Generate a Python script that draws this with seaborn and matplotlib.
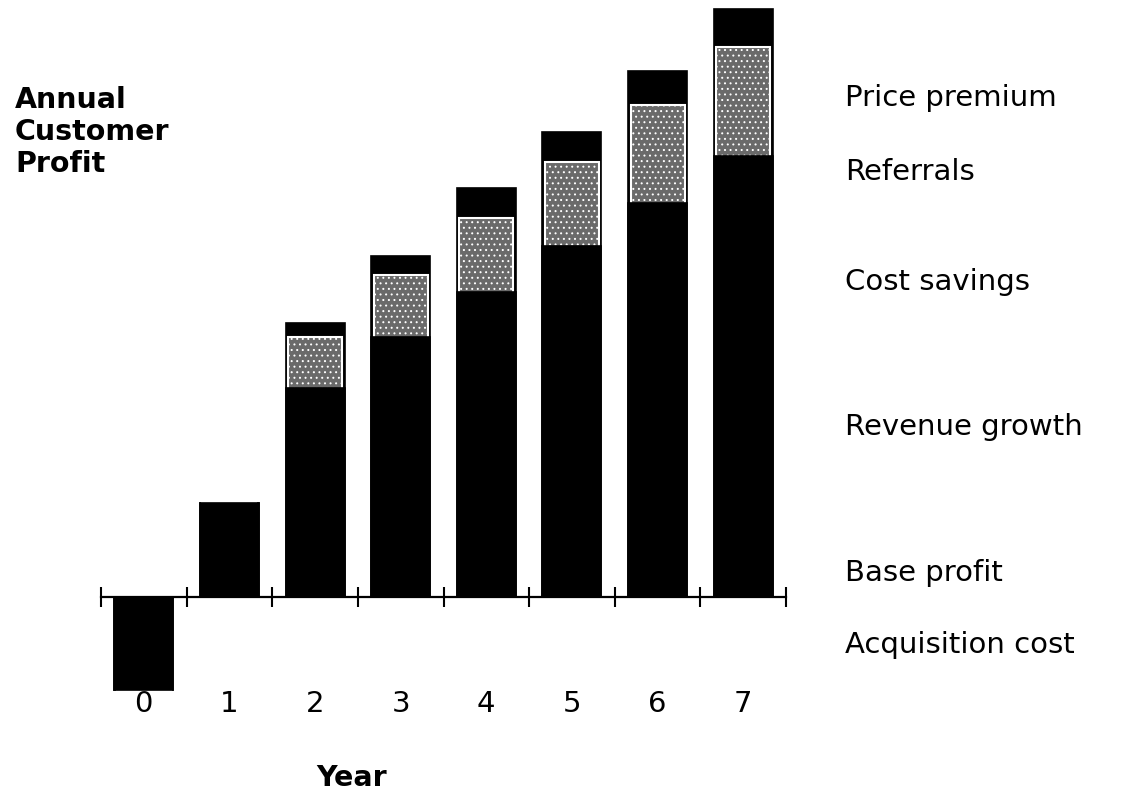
import pandas as pd
import matplotlib
matplotlib.use("Agg")
import matplotlib.pyplot as plt
import seaborn as sns
from matplotlib.ticker import FixedLocator

# Dữ liệu (đơn vị tùy ý)
years = ['0', '1', '2', '3', '4', '5', '6', '7']
acquisition_cost = [-9.3, 0, 0, 0, 0, 0, 0, 0]
base_profit = [0, 9.4, 9.4, 9.4, 9.4, 9.4, 9.4, 9.4]
growth_and_savings = [0, 0, 11.5, 16.6, 21.1, 25.7, 30.0, 34.7]
referrals = [0, 0, 5.1, 6.2, 7.4, 8.4, 9.8, 10.9]
price_premium = [0, 0, 1.4, 1.9, 3.0, 3.0, 3.4, 3.8]

layer_labels = ['Price premium', 'Referrals', 'Cost savings',
                'Revenue growth', 'Base profit', 'Acquisition cost']

df = pd.DataFrame({
    'year': years,
    'acq': acquisition_cost,
    'base': base_profit,
    'growth': growth_and_savings,
    'ref': referrals,
    'prem': price_premium,
})
df['lower'] = df['acq'] + df['base'] + df['growth']
df['mid'] = df['lower'] + df['ref']
df['total'] = df['mid'] + df['prem']

sns.set_style('white')
plt.rcParams['font.family'] = ['DejaVu Sans']
plt.rcParams['text.color'] = 'black'
plt.rcParams['xtick.color'] = 'black'
plt.rcParams['hatch.color'] = 'white'
plt.rcParams['hatch.linewidth'] = 0.7

fig = plt.figure(figsize=(11.29, 8.09), dpi=100)
ax = fig.add_axes([101 / 1129, 1 - 700 / 809, 685 / 1129, 695 / 809])

# Cột chồng: vẽ tổng tích lũy từ trên xuống
sns.barplot(data=df, x='year', y='total', order=years, color='black',
            width=0.69, saturation=1, edgecolor='black', linewidth=1.2, ax=ax)
sns.barplot(data=df, x='year', y='mid', order=years, color='#6a6a6a',
            width=0.63, saturation=1, edgecolor='white', linewidth=1.5,
            hatch='...', ax=ax)
sns.barplot(data=df, x='year', y='lower', order=years, color='black',
            width=0.69, saturation=1, edgecolor='black', linewidth=1.2, ax=ax)

ax.set_xlim(-0.5, 7.5)
ax.set_ylim(-10.3, 59.2)
ax.set_xlabel('')
ax.set_ylabel('')
ax.set_yticks([])

for s in ['left', 'right', 'top']:
    ax.spines[s].set_visible(False)
ax.spines['bottom'].set_position(('data', 0))
ax.spines['bottom'].set_linewidth(1.6)
ax.spines['bottom'].set_color('black')

ax.set_xticks(range(len(years)))
ax.set_xticklabels(years, fontsize=21)
ax.tick_params(axis='x', which='major', bottom=True, length=0, pad=67)
ax.xaxis.set_minor_locator(FixedLocator([i - 0.5 for i in range(len(years) + 1)]))
ax.tick_params(axis='x', which='minor', bottom=True, direction='inout',
               length=15, width=1.5, color='black')

fig.text(15 / 1129, 1 - 132 / 809, 'Annual\nCustomer\nProfit', fontsize=20.5,
         fontweight='bold', ha='left', va='center', linespacing=1.2)
fig.text(352 / 1129, 1 - 778 / 809, 'Year', fontsize=20.5, fontweight='bold',
         ha='center', va='center')

label_y = [98, 172, 282, 427, 573, 645]
for txt, y in zip(layer_labels, label_y):
    fig.text(845 / 1129, 1 - y / 809, txt, fontsize=21, ha='left', va='center')

fig.savefig('out.png', dpi=100)
